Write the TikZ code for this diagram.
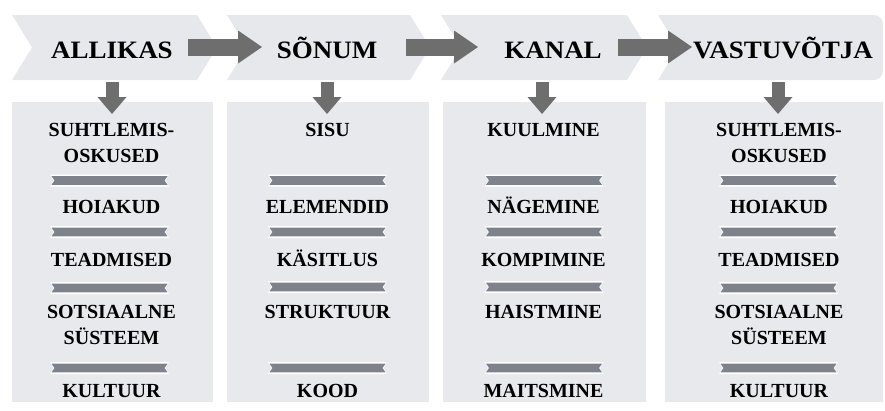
\documentclass[tikz,border=0pt]{standalone}
\usepackage{fontspec}
\setmainfont{Liberation Serif}
\usetikzlibrary{arrows.meta}
\definecolor{chevgray}{HTML}{E6E8EB}
\definecolor{panelgray}{HTML}{E7E9EC}
\definecolor{arrowgray}{HTML}{6E6E6E}
\definecolor{bargray}{HTML}{7D828B}
\tikzset{
  chev/.style={fill=chevgray},
  panel/.style={fill=panelgray},
  head/.style={font=\fontsize{25}{28}\selectfont\bfseries, inner sep=0pt, anchor=base},
  item/.style={font=\fontsize{20}{26}\selectfont\bfseries, inner sep=0pt, anchor=base, align=center},
  bigarrow/.style={draw=arrowgray, line width=17pt, -{Triangle[width=33pt,length=24pt,line width=0pt,fill=arrowgray]}},
  downarrow/.style={draw=arrowgray, line width=13pt, -{Triangle[width=29pt,length=17pt,line width=0pt,fill=arrowgray]}},
  barpic/.pic={
    \fill[white] (-59.5,-6) -- (59.5,-6) -- (56,0) -- (59.5,6) -- (-59.5,6) -- (-56,0) -- cycle;
    \fill[bargray] (-58,-4.3) -- (58,-4.3) -- (55,0) -- (58,4.3) -- (-58,4.3) -- (-55,0) -- cycle;
  }
}
\begin{document}
\begin{tikzpicture}[x=1pt,y=-1pt]
\useasboundingbox (0,0) rectangle (885,410);
% chevrons
\fill[chev] (12,15) -- (197,15) -- (217,47.5) -- (197,80) -- (12,80) -- (32,47.5) -- cycle;
\fill[chev] (227,15) -- (410,15) -- (430,47.5) -- (410,80) -- (227,80) -- (247,47.5) -- cycle;
\fill[chev] (441,15) -- (627,15) -- (647,47.5) -- (627,80) -- (441,80) -- (461,47.5) -- cycle;
\fill[chev] (678,47.5) -- (658,15) [rounded corners=9pt] -- (883,15) -- (883,80) [sharp corners] -- (658,80) -- cycle;
% panels
\fill[panel] (12,102) rectangle (213,402);
\fill[panel] (227,102) rectangle (429,402);
\fill[panel] (443,102) rectangle (646,402);
\fill[panel] (665,102) rectangle (883,402);
% headers
\node[head] (h1) at (112,58) {\scalebox{1.08}[1]{ALLIKAS}};
\node[head] (h2) at (327,58) {\scalebox{1.08}[1]{SÕNUM}};
\node[head] (h3) at (553,58) {\scalebox{1.08}[1]{KANAL}};
\node[head] (h4) at (783,58) {\scalebox{1.08}[1]{VASTUVÕTJA}};
% horizontal arrows
\coordinate (a1s) at (188,47); \coordinate (a1e) at (262,47);
\coordinate (a2s) at (406,47); \coordinate (a2e) at (478,47);
\coordinate (a3s) at (618,47); \coordinate (a3e) at (692,47);
\draw[bigarrow] (a1s) -- (a1e);
\draw[bigarrow] (a2s) -- (a2e);
\draw[bigarrow] (a3s) -- (a3e);
% down arrows
\coordinate (d1s) at (112,82); \coordinate (d1e) at (112,114);
\coordinate (d2s) at (327,82); \coordinate (d2e) at (327,114);
\coordinate (d3s) at (542,82); \coordinate (d3e) at (542,114);
\coordinate (d4s) at (778,82); \coordinate (d4e) at (778,114);
\draw[downarrow] (d1s) -- (d1e);
\draw[downarrow] (d2s) -- (d2e);
\draw[downarrow] (d3s) -- (d3e);
\draw[downarrow] (d4s) -- (d4e);
% column 1
\node[item] (p1a) at (111.5,162) {SUHTLEMIS-\\OSKUSED};
\node[item] (p1b) at (111.5,213) {HOIAKUD};
\node[item] (p1c) at (111.5,266) {TEADMISED};
\node[item] (p1d) at (111.5,344) {SOTSIAALNE\\SÜSTEEM};
\node[item] (p1e) at (111.5,397) {KULTUUR};
\pic at (109.5,180.5) {barpic};
\pic at (109.5,232) {barpic};
\pic at (109.5,288) {barpic};
\pic at (109.5,368) {barpic};
% column 2
\node[item] (p2a) at (327.5,136) {SISU};
\node[item] (p2b) at (327.5,213) {ELEMENDID};
\node[item] (p2c) at (327.5,266) {KÄSITLUS};
\node[item] (p2d) at (327.5,318) {STRUKTUUR};
\node[item] (p2e) at (327.5,397) {KOOD};
\pic at (327.5,180.5) {barpic};
\pic at (327.5,232) {barpic};
\pic at (327.5,287) {barpic};
\pic at (327.5,368) {barpic};
% column 3
\node[item] (p3a) at (543.5,136) {KUULMINE};
\node[item] (p3b) at (543.5,213) {NÄGEMINE};
\node[item] (p3c) at (543.5,266) {KOMPIMINE};
\node[item] (p3d) at (543.5,318) {HAISTMINE};
\node[item] (p3e) at (543.5,397) {MAITSMINE};
\pic at (544,180.5) {barpic};
\pic at (544,232) {barpic};
\pic at (544,287) {barpic};
\pic at (544,368) {barpic};
% column 4
\node[item] (p4a) at (779,162) {SUHTLEMIS-\\OSKUSED};
\node[item] (p4b) at (779,213) {HOIAKUD};
\node[item] (p4c) at (779,266) {TEADMISED};
\node[item] (p4d) at (779,344) {SOTSIAALNE\\SÜSTEEM};
\node[item] (p4e) at (779,397) {KULTUUR};
\pic at (778.5,180.5) {barpic};
\pic at (778.5,232) {barpic};
\pic at (778.5,288) {barpic};
\pic at (778.5,368) {barpic};
\end{tikzpicture}
\end{document}
